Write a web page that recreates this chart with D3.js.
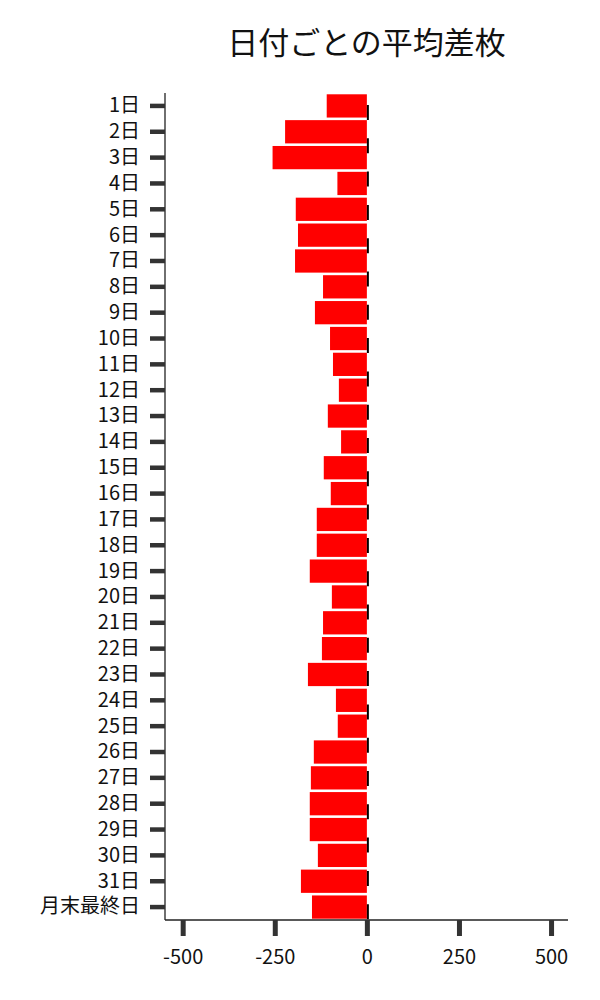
<!DOCTYPE html>
<html>
<head>
<meta charset="utf-8">
<script src="https://cdn.jsdelivr.net/npm/d3@7"></script>
<style>
  body { margin: 0; background: #fff; }
</style>
</head>
<body>
<div id="chart"></div>
<script>
// 日付ごとの平均差枚 //

const days = ["1日","2日","3日","4日","5日","6日","7日","8日","9日","10日",
  "11日","12日","13日","14日","15日","16日","17日","18日","19日","20日",
  "21日","22日","23日","24日","25日","26日","27日","28日","29日","30日",
  "31日","月末最終日"];
const avgDiff = [-109, -222, -256, -80, -193, -187, -195, -119, -141, -100,
  -92, -76, -106, -70, -117, -98, -136, -136, -155, -95,
  -119, -122, -160, -84, -79, -144, -152, -155, -155, -133,
  -179, -149];
const xTicks = [-500, -250, 0, 250, 500];
const title = "日付ごとの平均差枚";

const FONT = "'Noto Sans CJK JP', 'Noto Sans', sans-serif";

// set the dimensions and margins of the graph
const W = 600, H = 1000;
const margin = { top: 93, right: 32, bottom: 80, left: 165 };
const width = W - margin.left - margin.right;
const height = H - margin.top - margin.bottom;

const svg = d3.select("#chart")
  .append("svg")
  .attr("width", W)
  .attr("height", H)
  .attr("font-family", FONT);

const g = svg.append("g")
  .attr("transform", `translate(${margin.left},${margin.top})`);

// scales
const x = d3.scaleLinear().domain([-548, 546]).range([0, width]);
const y = d3.scaleBand().domain(days).range([0, height]).paddingInner(0.1).paddingOuter(0.05);

// bars
g.append("g")
  .selectAll("rect")
  .data(days)
  .join("rect")
  .attr("x", (d, i) => x(Math.min(0, avgDiff[i])))
  .attr("y", d => y(d))
  .attr("width", (d, i) => Math.abs(x(avgDiff[i]) - x(0)))
  .attr("height", y.bandwidth())
  .attr("fill", "#ff0000");

// dashed zero line
g.append("line")
  .attr("x1", x(0) + 1)
  .attr("x2", x(0) + 1)
  .attr("y1", 12)
  .attr("y2", height)
  .attr("stroke", "#000")
  .attr("stroke-width", 2)
  .attr("stroke-dasharray", "15,18.3");

// Y axis
const yAxis = g.append("g")
  .call(d3.axisLeft(y).tickSize(15).tickPadding(10))
  .attr("font-family", FONT);
yAxis.select(".domain").attr("stroke", "#222").attr("stroke-width", 1.3).attr("d", `M0,0V${height}`);
yAxis.selectAll(".tick line").attr("stroke", "#333").attr("stroke-width", 4.5);
yAxis.selectAll(".tick text").attr("font-size", 20).attr("fill", "#111");

// X axis
const xAxis = g.append("g")
  .attr("transform", `translate(0,${height})`)
  .call(d3.axisBottom(x).tickValues(xTicks).tickFormat(d => String(d)).tickSize(16).tickPadding(14))
  .attr("font-family", FONT);
xAxis.select(".domain").attr("stroke", "#222").attr("stroke-width", 1.3).attr("d", `M0,0H${width}`);
xAxis.selectAll(".tick line").attr("stroke", "#333").attr("stroke-width", 5);
xAxis.selectAll(".tick text").attr("font-size", 20).attr("fill", "#111");

// title
svg.append("text")
  .attr("x", margin.left + width / 2)
  .attr("y", 54)
  .attr("text-anchor", "middle")
  .attr("font-size", 31)
  .attr("fill", "#111")
  .text(title);
</script>
</body>
</html>
